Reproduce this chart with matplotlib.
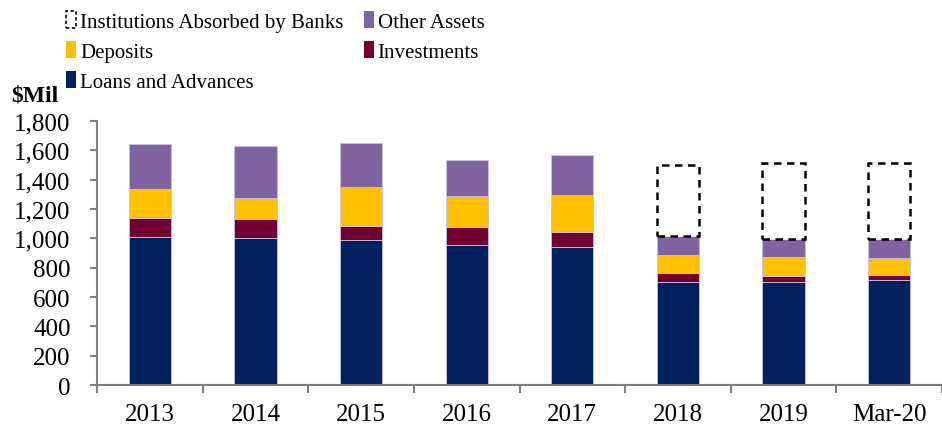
import numpy as np
import matplotlib
matplotlib.use("Agg")
import matplotlib.pyplot as plt
from matplotlib.patches import Patch

plt.rcParams['font.family'] = ['Liberation Serif', 'DejaVu Serif']

years = ["2013", "2014", "2015", "2016", "2017", "2018", "2019", "Mar-20"]
loans = [1012, 1005, 989, 957, 944, 705, 705, 714]
investments = [125, 127, 95, 121, 102, 62, 36, 36]
deposits = [198, 143, 269, 211, 248, 122, 130, 116]
other_assets = [311, 355, 295, 248, 277, 127, 123, 128]
absorbed = [0, 0, 0, 0, 0, 484, 518, 518]

c_loans = "#002060"
c_inv = "#720030"
c_dep = "#FFC000"
c_oth = "#8064A2"
edge = "#c9c3e0"

fig = plt.figure(figsize=(9.42, 4.27), dpi=100)
ax = fig.add_axes([0.103, 0.096, 0.897, 0.618])

x = np.arange(len(years))
w = 0.4
b1 = np.array(loans)
b2 = b1 + np.array(investments)
b3 = b2 + np.array(deposits)
b4 = b3 + np.array(other_assets)

ax.bar(x, loans, w, color=c_loans, edgecolor=edge, linewidth=0.6)
ax.bar(x, investments, w, bottom=b1, color=c_inv, edgecolor=edge, linewidth=0.6)
ax.bar(x, deposits, w, bottom=b2, color=c_dep, edgecolor=edge, linewidth=0.6)
ax.bar(x, other_assets, w, bottom=b3, color=c_oth, edgecolor=edge, linewidth=0.6)
mask = np.array(absorbed) > 0
ax.bar(x[mask], np.array(absorbed)[mask], w, bottom=b4[mask], facecolor="white",
       edgecolor="black", linewidth=1.8, linestyle=(0, (3, 2.2)))

ax.set_xlim(-0.5, len(years) - 0.5)
ax.set_ylim(0, 1800)
ax.set_yticks(range(0, 1801, 200))
ax.set_yticklabels([f"{v:,}" for v in range(0, 1801, 200)], fontsize=18)
ax.set_xticks(x)
ax.set_xticklabels(years, fontsize=18)
ax.set_xticks(np.arange(-0.5, len(years)), minor=True)
ax.tick_params(axis="x", which="major", length=0, pad=13)
ax.tick_params(axis="x", which="minor", length=6, color="#808080", width=1.5)
ax.tick_params(axis="y", length=5, color="#808080", width=1.5, pad=14)
for s in ["top", "right"]:
    ax.spines[s].set_visible(False)
for s in ["left", "bottom"]:
    ax.spines[s].set_color("#808080")
    ax.spines[s].set_linewidth(1.5)

handles = [
    Patch(facecolor="white", edgecolor="black", linestyle=(0, (2, 1.5)), linewidth=1.2,
          label="Institutions Absorbed by Banks"),
    Patch(facecolor=c_dep, label="Deposits"),
    Patch(facecolor=c_loans, label="Loans and Advances"),
    Patch(facecolor=c_oth, label="Other Assets"),
    Patch(facecolor=c_inv, label="Investments"),
]
fig.legend(handles=handles, ncol=2, loc="upper left", bbox_to_anchor=(0.055, 1.005),
           frameon=False, fontsize=15, handlelength=0.45, handleheight=0.85,
           handletextpad=0.2, columnspacing=1.0, labelspacing=0.45, borderaxespad=0.3)

fig.text(0.012, 0.775, "\\$Mil", fontsize=17, fontweight="bold", ha="left", va="center")

fig.savefig("out.png", dpi=100)
